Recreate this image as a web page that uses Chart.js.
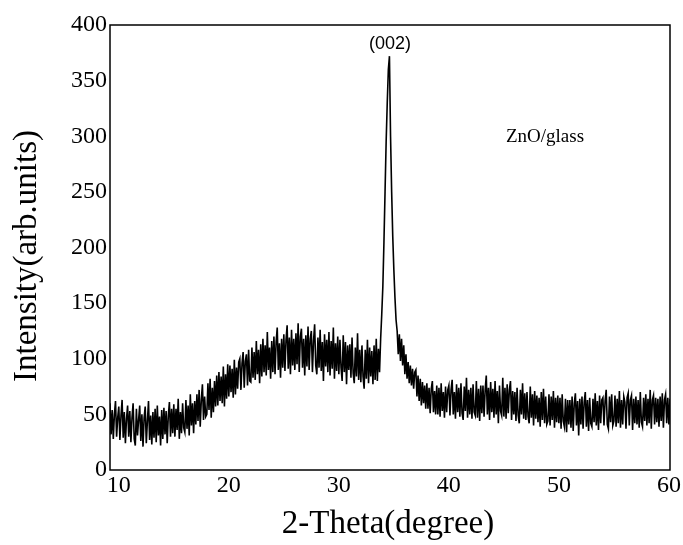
<!DOCTYPE html>
<html>
<head>
<meta charset="utf-8">
<script src="https://cdn.jsdelivr.net/npm/chart.js@4.4.1/dist/chart.umd.min.js"></script>
<style>
  html, body { margin: 0; padding: 0; background: #fff; }
  canvas { display: block; }
</style>
</head>
<body>
<canvas id="xrd" width="683" height="545"></canvas>
<script>
// scan grid (2-theta), one reading every 0.1 degree
const scanStart = 9.2;
const scanStep = 0.1;

// intensities, in 10-degree pieces
const int10 = [60, 32, 54, 28, 50, 62, 30, 47,
  57, 27, 49, 63, 29, 52, 24, 46, 58, 30,
  53, 25, 47, 60, 28, 22, 55, 31, 45, 58,
  26, 50, 21, 47, 57, 24, 44, 62, 27, 49,
  23, 52, 29, 55, 25, 58, 31, 48, 22, 54,
  28, 56, 32, 53, 24, 49, 61, 30, 55, 33,
  59, 30, 55, 36, 64, 28, 52, 33, 60, 38,
  34, 63, 37, 58, 31, 68, 40, 60, 33, 62,
  41, 68, 44, 72, 39, 63, 77, 45, 66, 48,
  50, 78, 54, 82, 47, 74, 52, 80, 57, 85,
  58, 88, 62, 84, 60, 93, 57, 86, 64, 95];
const int20 = [66, 94, 70, 91, 65, 99, 68, 92, 73, 97,
  100, 72, 96, 106, 74, 98, 104, 76, 108, 80,
  79, 110, 83, 106, 81, 116, 86, 108, 78, 113,
  84, 118, 88, 112, 85, 124, 90, 110, 82, 116,
  88, 120, 86, 115, 128, 90, 114, 83, 118, 92,
  122, 89, 117, 130, 91, 119, 86, 126, 94, 118,
  90, 123, 95, 132, 88, 120, 127, 92, 118, 85,
  121, 93, 129, 90, 118, 125, 88, 116, 131, 94,
  86, 119, 92, 126, 89, 115, 80, 122, 93, 117,
  88, 124, 85, 116, 91, 128, 82, 114, 89, 120];
const int30 = [86, 117, 92, 80, 121, 88, 115, 77, 112, 90,
  113, 83, 119, 87, 78, 110, 84, 123, 81, 108,
  79, 112, 84, 73, 108, 82, 117, 78, 110, 84,
  107, 77, 112, 81, 118, 80, 109, 88, 118, 140,
  165, 205, 250, 295, 330, 360, 372, 300, 250, 210,
  180, 155, 135, 125, 104, 122, 98, 118, 94, 112,
  86, 104, 82, 97, 78, 94, 76, 91, 73, 88,
  90, 66, 85, 62, 82, 58, 79, 60, 76, 55,
  78, 55, 74, 51, 73, 80, 52, 71, 50, 76,
  50, 74, 48, 78, 53, 70, 47, 75, 52, 72];
const int40 = [76, 49, 72, 81, 50, 70, 46, 77, 52, 74,
  48, 78, 51, 45, 75, 53, 83, 47, 72, 50,
  74, 46, 77, 52, 49, 80, 47, 73, 44, 76,
  51, 76, 48, 72, 85, 50, 74, 45, 79, 52,
  73, 47, 80, 50, 71, 42, 76, 53, 49, 83,
  48, 74, 46, 77, 51, 72, 80, 45, 71, 50,
  70, 44, 74, 49, 42, 72, 50, 78, 46, 69,
  45, 70, 48, 42, 75, 47, 68, 40, 71, 46,
  67, 43, 65, 39, 70, 45, 73, 42, 66, 41,
  44, 68, 40, 66, 45, 71, 38, 65, 43, 67];
const int50 = [42, 65, 37, 68, 44, 39, 64, 34, 63, 41,
  63, 38, 66, 35, 60, 69, 40, 62, 31, 64,
  41, 66, 37, 61, 70, 39, 63, 35, 65, 42,
  39, 64, 43, 69, 40, 62, 36, 67, 42, 63,
  65, 40, 62, 72, 41, 37, 66, 43, 68, 40,
  44, 67, 39, 64, 42, 71, 38, 63, 41, 66,
  61, 37, 65, 69, 40, 63, 67, 36, 64, 42,
  66, 41, 63, 38, 70, 43, 39, 65, 44, 68,
  40, 64, 42, 72, 37, 63, 67, 41, 65, 43,
  64, 39, 66, 44, 69, 38, 63, 68, 42, 65,
  41, 64];

const xTicks = [10, 20, 30, 40, 50, 60];
const yTicks = [0, 50, 100, 150, 200, 250, 300, 350, 400];

const intensity = [].concat(int10, int20, int30, int40, int50);
const punten = intensity.map((v, i) => ({ x: +(scanStart + i * scanStep).toFixed(2), y: v }));

const serif = "'Liberation Serif', 'Times New Roman', serif";

// frame + titles + labels
const extras = {
  id: 'extras',
  afterDraw(chart) {
    const ctx = chart.ctx;
    const a = chart.chartArea;
    ctx.save();
    ctx.strokeStyle = '#000';
    ctx.lineWidth = 1.5;
    ctx.strokeRect(a.left, a.top, a.right - a.left, a.bottom - a.top);

    ctx.fillStyle = '#000';
    ctx.textAlign = 'center';
    ctx.textBaseline = 'middle';

    ctx.font = '33px ' + serif;
    ctx.fillText('2-Theta(degree)', 388, 524);

    ctx.save();
    ctx.translate(27, 256);
    ctx.rotate(-Math.PI / 2);
    ctx.fillText('Intensity(arb.units)', 0, 0);
    ctx.restore();

    ctx.font = "18px 'Liberation Sans', Arial, sans-serif";
    ctx.fillText('(002)', 390, 44);

    ctx.font = '19px ' + serif;
    ctx.fillText('ZnO/glass', 545, 137);
    ctx.restore();
  }
};

new Chart(document.getElementById('xrd'), {
  type: 'line',
  data: {
    datasets: [{
      data: punten,
      borderColor: '#000',
      borderWidth: 1.6,
      pointRadius: 0,
      tension: 0,
      fill: false
    }]
  },
  options: {
    responsive: false,
    animation: false,
    devicePixelRatio: 1,
    layout: { padding: { top: 25, right: 13, left: 0, bottom: 0 } },
    plugins: { legend: { display: false }, tooltip: { enabled: false } },
    scales: {
      x: {
        type: 'linear',
        min: 9.2,
        max: 60.1,
        afterBuildTicks: (s) => { s.ticks = xTicks.map(v => ({ value: v })); },
        afterFit: (s) => { s.height = 75; },
        grid: { display: false, drawTicks: false },
        border: { display: false },
        ticks: { color: '#000', padding: 1, font: { family: serif, size: 24 } }
      },
      y: {
        min: 0,
        max: 400,
        afterBuildTicks: (s) => { s.ticks = yTicks.map(v => ({ value: v })); },
        afterFit: (s) => { s.width = 110; },
        grid: { display: false, drawTicks: false },
        border: { display: false },
        ticks: { color: '#000', padding: 3, font: { family: serif, size: 24 } }
      }
    }
  },
  plugins: [extras]
});
</script>
</body>
</html>
